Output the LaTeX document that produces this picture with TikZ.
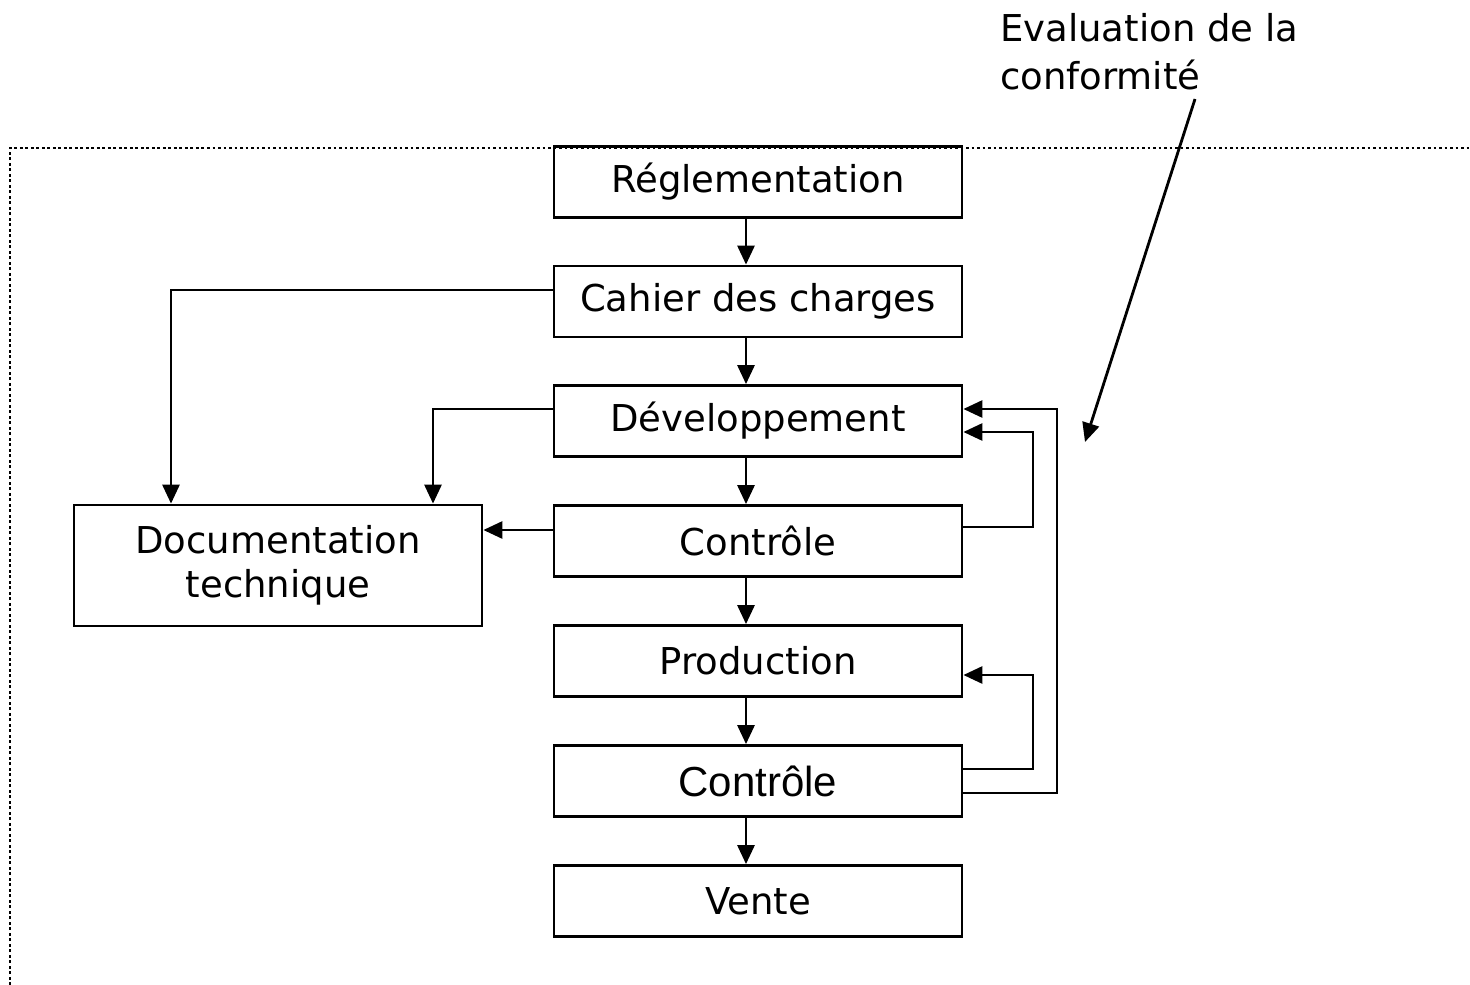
\documentclass[tikz,border=0pt]{standalone}
\usepackage{fontspec}
\setmainfont{DejaVu Sans}
\newfontfamily\arialf{Liberation Sans}
\usetikzlibrary{arrows.meta}
\begin{document}
\begin{tikzpicture}[x=1pt,y=-1pt,
  box/.style={draw,line width=2.8pt,minimum width=408pt,minimum height=71pt,inner sep=0pt,
    font=\fontsize{37}{44}\selectfont,align=center},
  conn/.style={line width=2.8pt},
  arr/.style={conn,-{Triangle[length=19pt,width=17pt]}},
  dotline/.style={line width=2.8pt,dash pattern=on 2.8pt off 2.7pt}]
\useasboundingbox (0,0) rectangle (1470,985);
% frame
\draw[dotline] (10,985) -- (10,148) -- (1470,148);
% nodes
\node[box] (regl) at (758,182) {Réglementation};
\node[box] (cahier) at (758,301.5) {Cahier des charges};
\node[box] (dev) at (758,421) {Développement};
\node[box] (ctrla) at (758,541) {Contrôle};
\node[box] (prod) at (758,661) {Production};
\node[box,font=\arialf\fontsize{42}{48}\selectfont] (ctrlb) at (758,781) {Contrôle};
\node[box] (vente) at (758,901) {Vente};
\node[box,minimum height=121pt] (doc) at (278,565.5) {Documentation\\technique};
\node[font=\fontsize{37}{48}\selectfont,align=left,anchor=north west,inner sep=0pt] (eval) at (1000,13) {Evaluation de la\\conformité};
\coordinate (evtip) at (1085,442);
% vertical flow
\foreach \a/\b in {regl/cahier,cahier/dev,dev/ctrla,ctrla/prod,prod/ctrlb,ctrlb/vente}
  \draw[arr] ([xshift=-12pt]\a.south) -- ([xshift=-12pt]\b.north);
% to documentation
\draw[arr] ([yshift=11.5pt]cahier.west) -| ([xshift=-107pt]doc.north);
\draw[arr] ([yshift=12pt]dev.west) -| ([xshift=155pt]doc.north);
\path ([yshift=11pt]ctrla.west) coordinate (cw);
\draw[arr] (cw) -- (cw -| doc.east);
% feedback loops
\coordinate (ra) at (1033,0);
\coordinate (rb) at (1057,0);
\path ([yshift=14pt]ctrla.east) coordinate (ca)
      ([yshift=-11pt]dev.east) coordinate (da)
      ([yshift=12pt]dev.east) coordinate (db)
      ([yshift=-14pt]prod.east) coordinate (pa)
      ([yshift=12pt]ctrlb.east) coordinate (cba)
      ([yshift=-12pt]ctrlb.east) coordinate (cbb);
\draw[arr] (ca) -- (ca -| ra) -- (da -| ra) -- (da);
\draw[arr] (cba) -- (cba -| ra) -- (pa -| ra) -- (pa);
\draw[arr] (cbb) -- (cbb -| rb) -- (db -| rb) -- (db);
% evaluation arrow
\draw[arr] (1195,99) -- (evtip);
\end{tikzpicture}
\end{document}
